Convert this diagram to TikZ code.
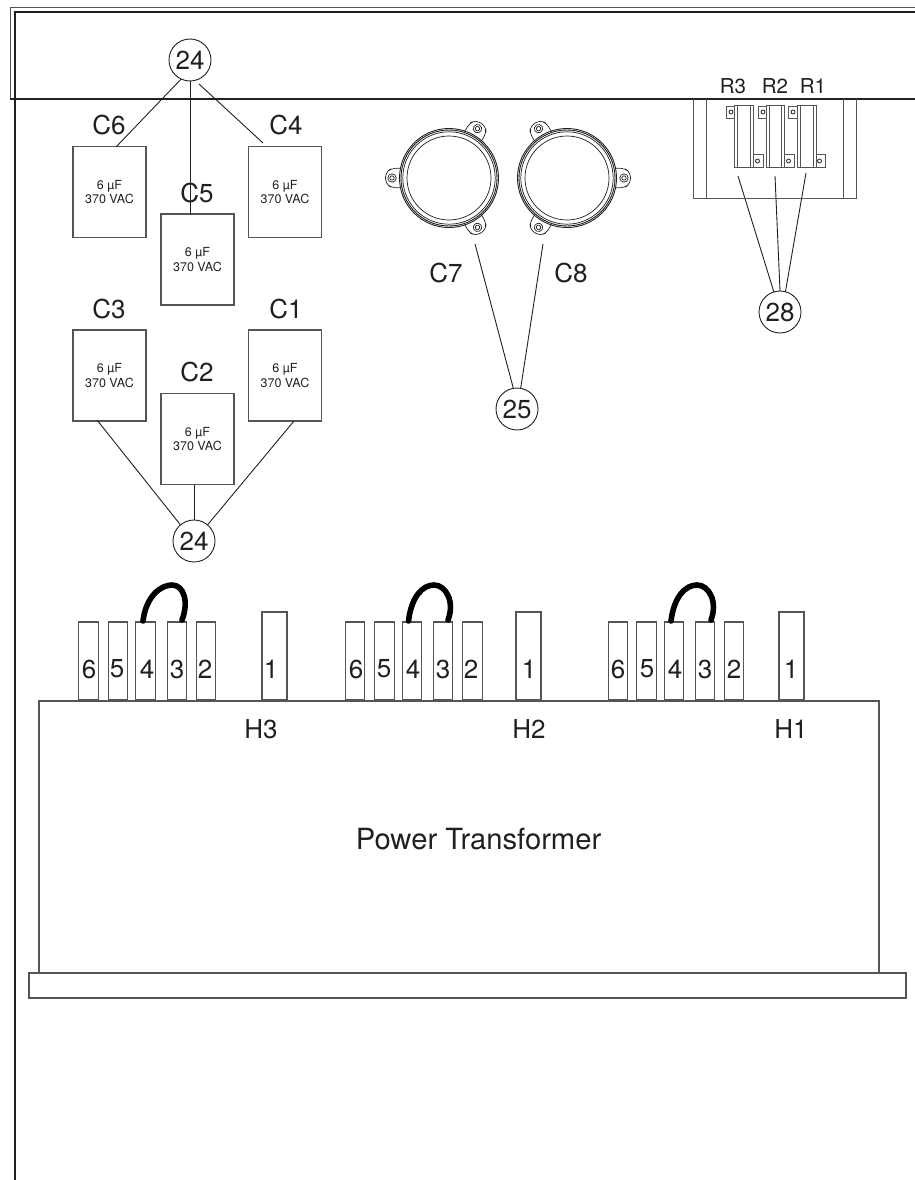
\documentclass[tikz,border=0pt]{standalone}
\usepackage{fontspec}
\setmainfont{TeX Gyre Heros}
\definecolor{ink}{HTML}{231F20}
\definecolor{soft}{HTML}{555555}
\tikzset{
  x=1pt,y=-1pt,
  every node/.style={inner sep=0pt,outer sep=0pt,text=ink},
  frameline/.style={draw=ink,line width=1.2pt},
  lead/.style={draw=ink,line width=0.9pt},
  callout/.style={circle,draw=ink,line width=0.9pt,minimum size=42pt,font=\fontsize{26}{26}\selectfont},
  biglabel/.style={font=\fontsize{26}{26}\selectfont},
  smalllabel/.style={font=\fontsize{20.5}{20.5}\selectfont},
  capbox/.style={rectangle,draw=soft,line width=1.1pt,minimum width=73pt,minimum height=91pt,align=center,font=\fontsize{12.5}{14.5}\selectfont},
  terminal/.style={rectangle,draw=soft,line width=1.1pt,anchor=south,minimum width=19.5pt,minimum height=78pt},
  tallterminal/.style={rectangle,draw=soft,line width=1.1pt,anchor=south,minimum width=25pt,minimum height=88pt},
  jumper/.style={draw=black,line width=5.6pt,line cap=round},
  body/.style={rectangle,draw=soft,line width=1.1pt},
  rline/.style={draw=soft,line width=0.8pt},
  mount/.style={draw=ink,line width=0.7pt,fill=white,rounded corners=4pt},
}
\newcommand{\capmount}[4]{%
  \begin{scope}[shift={#1}]
    \foreach \a in {#2,#3,#4}{
      \begin{scope}[rotate=\a]
        \draw[mount] (40,-10) -- (58,-9.5) -- (63.5,-5) -- (63.5,5) -- (58,9.5) -- (40,10) -- cycle;
        \draw[ink,line width=0.7pt,fill=white] (57,0) circle (4.2pt);
        \draw[ink,line width=0.7pt,fill=white] (57,0) circle (2.2pt);
      \end{scope}
    }
    \fill[white] (0,0) circle (49pt);
    \draw[ink,line width=0.9pt] (0,0) circle (49.5pt);
    \draw[ink,line width=0.9pt] (0,0) circle (48pt);
    \draw[ink,line width=0.7pt] (0,0) circle (46.2pt);
    \draw[ink,line width=0.7pt] (0,0) circle (42pt);
  \end{scope}}
\newcommand{\resistor}[5]{%
  \draw[rline] (#1,105) rectangle (#2,167);
  \draw[rline] (#1+3,105) -- (#1+3,167);
  \draw[rline] (#2-2.5,105) -- (#2-2.5,167);
  \draw[rline] (#3,106) rectangle (#1,118);
  \draw[rline] (#2,154) rectangle (#4,167);
  \draw[ink,line width=0.8pt] (#3+5,112) circle (2pt);
  \draw[ink,line width=0.8pt] (#4-5.5,161) circle (2pt);
}
\begin{document}
\begin{tikzpicture}
\useasboundingbox (0,0) rectangle (915,1180);
\draw[draw=soft,line width=1pt] (915,8) -- (10,8) -- (10,99);
\draw[frameline] (915,12) -- (15,12) -- (15,1180);
\draw[frameline] (10,99) -- (915,99);
\node[capbox] (c6) at (109.5,192) {6 µF\\370 VAC};
\node[capbox] (c4) at (285,192) {6 µF\\370 VAC};
\node[capbox] (c5) at (197.5,259.5) {6 µF\\370 VAC};
\node[capbox] (c3) at (109.5,375.5) {6 µF\\370 VAC};
\node[capbox] (c1) at (285,375.5) {6 µF\\370 VAC};
\node[capbox] (c2) at (197.5,439) {6 µF\\370 VAC};
\node[biglabel] at (109,125) {C6};
\node[biglabel] at (286,125) {C4};
\node[biglabel] at (197,193) {C5};
\node[biglabel] at (109,309) {C3};
\node[biglabel] at (286,309) {C1};
\node[biglabel] at (197,372) {C2};
\node[callout] (a24) at (190,60) {24};
\node[callout] (b24) at (194,541) {24};
\node[callout] (n25) at (517,409) {25};
\node[callout] (n28) at (780,312) {28};
\coordinate (a6) at (116,147);
\coordinate (a5) at (190,215);
\coordinate (a4) at (263,143);
\coordinate (a4s) at (199,84);
\coordinate (b3) at (97,420);
\coordinate (b2) at (194,485);
\coordinate (b1) at (294,421);
\coordinate (e7) at (475,244);
\coordinate (e8) at (543,244);
\coordinate (r3e) at (738,176);
\coordinate (r2e) at (775,176);
\coordinate (r1e) at (806,173);
\draw[lead] (a24.245) -- (a6);
\draw[lead] (a24.south) -- (a5);
\draw[lead] (a4s) -- (a4);
\draw[lead] (b24.130) -- (b3);
\draw[lead] (b24.north) -- (b2);
\draw[lead] (b24.50) -- (b1);
\draw[lead] (n25.100) -- (e7);
\draw[lead] (n25.80) -- (e8);
\draw[lead] (n28.107) -- (r3e);
\draw[lead] (n28.north) -- (r2e);
\draw[lead] (n28.75) -- (r1e);
\capmount{(449,178)}{180}{-60}{60}
\capmount{(567,178)}{0}{-120}{120}
\node[biglabel] at (446,273) {C7};
\node[biglabel] at (571,273) {C8};
\draw[rline,line width=1pt] (693,99) -- (693,198) -- (856,198) -- (856,99);
\draw[rline,line width=1pt] (706,99) -- (706,198);
\draw[rline,line width=1pt] (843,99) -- (843,198);
\resistor{734}{753}{726}{763}{r3}
\resistor{766}{784}{758}{794}{r2}
\resistor{797}{816}{788}{825}{r1}
\node[smalllabel] at (733,86) {R3};
\node[smalllabel] at (775,86) {R2};
\node[smalllabel] at (813,86) {R1};
\foreach \g/\xa/\xb/\xc/\xd/\xe/\xf/\ja/\jb/\jc in {
  a/88.5/118/145.5/177/206/274.5/143/172/182,
  b/355/384.5/412/443/472.5/528.5/408.5/434/448,
  c/618/646.5/674/705/734/791.5/671/697/711}{
  \node[terminal] (\g6) at (\xa,700) {};
  \node[terminal] (\g5) at (\xb,700) {};
  \node[terminal] (\g4) at (\xc,700) {};
  \node[terminal] (\g3) at (\xd,700) {};
  \node[terminal] (\g2) at (\xe,700) {};
  \node[tallterminal] (\g1) at (\xf,700) {};
  \draw[jumper] (\ja,621) .. controls (\ja+3,596) and (\jb-11,585) .. (\jb,585) .. controls (\jb+12,585) and (\jc+7,602) .. (\jc,620);
}
\foreach \x/\t in {89/6,117/5,147/4,177/3,205/2,271/1,356/6,384/5,413/4,443/3,471/2,529/1,618/6,647/5,675/4,705/3,734/2,791/1}{
  \node[biglabel] at (\x,669) {\t};
}
\node[body,minimum width=840pt,minimum height=272pt] (xfmr) at (459,837) {};
\node[body,minimum width=877pt,minimum height=25pt] (base) at (467.5,985.5) {};
\node[biglabel] at (261,729) {H3};
\node[biglabel] at (529,729) {H2};
\node[biglabel] at (791,729) {H1};
\node[font=\fontsize{29.2}{29.2}\selectfont] at (478.5,839) {Power Transformer};
\end{tikzpicture}
\end{document}
